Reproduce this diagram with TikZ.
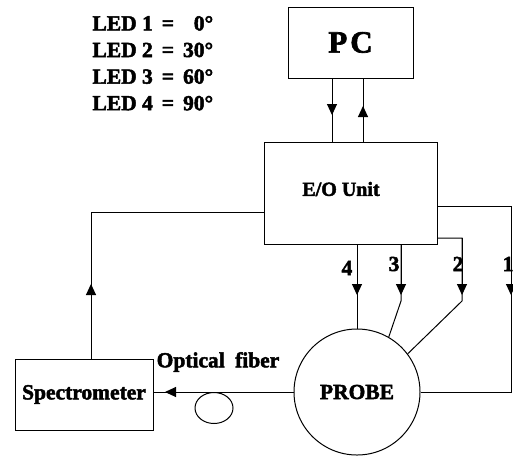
\documentclass[tikz,border=0pt]{standalone}
\usepackage{fontspec}
\setmainfont{Liberation Serif}[BoldFeatures={FakeBold=2.2}]
\usetikzlibrary{arrows.meta,shapes.geometric}
\begin{document}
\begin{tikzpicture}[x=1pt,y=-1pt, line width=1pt,
  lbl/.style={font=\bfseries\fontsize{21.5}{25}\selectfont, inner sep=0},
  box/.style={draw, lbl},
  tip/.style={-{Triangle[length=11pt,width=10pt]}}]
\useasboundingbox (0,0) rectangle (513,459);
% blocks
\node[box, minimum width=125pt, minimum height=71pt, font=\bfseries\fontsize{31}{34}\selectfont] (pc) at (350.5,42.5) {P\hspace{3pt}C};
\node[box, minimum width=173pt, minimum height=102pt] (eo) at (350.5,193) {};
\node[lbl, font=\bfseries\fontsize{20}{24}\selectfont] (eolbl) at (341,189) {E/O Unit};
\node[box, minimum width=138pt, minimum height=71pt] (spec) at (84,394.5) {Spectrometer};
\node[draw, circle, minimum size=126pt, lbl] (probe) at (357,392) {PROBE};
\node[draw, ellipse, minimum width=38pt, minimum height=31pt, inner sep=0] (coil) at (214,408) {};
% texts
\node[lbl, anchor=west, font=\bfseries\fontsize{21.5}{26.6}\selectfont] (led) at (92,65)
  {\begin{tabular}{@{}l@{\hspace{9pt}}c@{\hspace{9pt}}r@{}}
   LED 1 & = & 0° \\
   LED 2 & = & 30° \\
   LED 3 & = & 60° \\
   LED 4 & = & 90°
   \end{tabular}};
\node[lbl] (of) at (218,362) {Optical\hspace{5pt} fiber};
\node[lbl] (n4) at (347,268) {4};
\node[lbl] (n3) at (394,264) {3};
\node[lbl] (n2) at (458,264) {2};
\node[lbl] (n1) at (508,264) {1};
% helper coordinates
\coordinate (xa) at (332,0);
\coordinate (xb) at (363,0);
\coordinate (xl) at (91,0);
\coordinate (xr) at (511,0);
\coordinate (x4) at (357,0);
\coordinate (x3) at (401,0);
\coordinate (x2) at (462,0);
\coordinate (yl) at (0,212);
\coordinate (yr) at (0,206);
\coordinate (y2) at (0,238);
\coordinate (b3) at (401,301);
\coordinate (b2) at (462,301);
% PC <-> E/O
\draw (pc.south -| xa) -- (eo.north -| xa);
\draw[tip] (pc.south -| xa) -- (332,115);
\draw (eo.north -| xb) -- (pc.south -| xb);
\draw[tip] (eo.north -| xb) -- (363,106);
% E/O -> spectrometer
\draw (eo.west |- yl) -- (xl |- yl) -- (spec.north -| xl);
\draw[tip] (spec.north -| xl) -- (91,284);
% LED 1
\draw (eo.east |- yr) -- (xr |- yr) -- (xr |- probe.east) -- (probe.east);
\draw[tip] (xr |- yr) -- (511,295);
% LED 4
\draw (eo.south -| x4) -- (probe.north);
\draw[tip] (eo.south -| x4) -- (357,295);
% LED 3
\draw (eo.south -| x3) -- (b3) -- (probe.60);
\draw[tip] (eo.south -| x3) -- (401,295);
% LED 2
\draw (eo.east |- y2) -- (x2 |- y2) -- (b2) -- (probe.37);
\draw[tip] (x2 |- y2) -- (462,295);
% optical fiber
\draw (probe.west) -- (probe.west -| spec.east);
\draw[tip] (probe.west) -- (165,392);
\end{tikzpicture}
\end{document}
